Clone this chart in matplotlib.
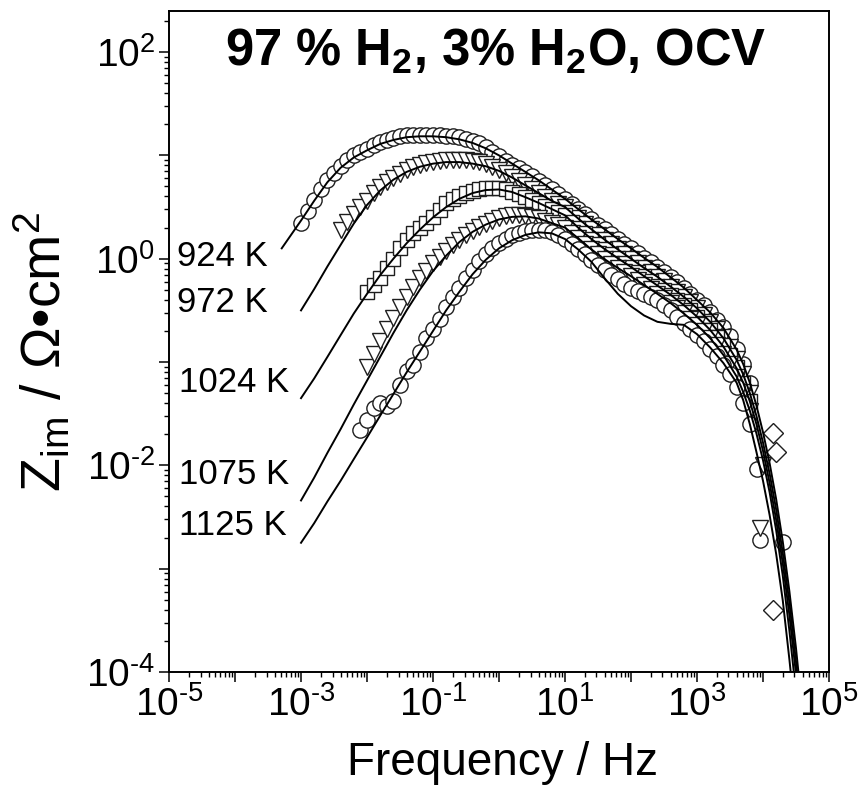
import numpy as np
import matplotlib.pyplot as plt
from matplotlib.ticker import FixedLocator, LogLocator, NullFormatter

plt.rcParams['font.family'] = ['Liberation Sans', 'DejaVu Sans']
plt.rcParams['mathtext.fontset'] = 'custom'
plt.rcParams['mathtext.rm'] = 'Liberation Sans'
plt.rcParams['mathtext.it'] = 'Liberation Sans:italic'
plt.rcParams['mathtext.bf'] = 'Liberation Sans:bold'

# measured frequencies, 10 points per decade (Hz)
freq = [1.00e-3, 1.26e-3, 1.58e-3, 2.00e-3, 2.51e-3, 3.16e-3, 3.98e-3, 5.01e-3, 6.31e-3, 7.94e-3,
        1.00e-2, 1.26e-2, 1.58e-2, 2.00e-2, 2.51e-2, 3.16e-2, 3.98e-2, 5.01e-2, 6.31e-2, 7.94e-2,
        1.00e-1, 1.26e-1, 1.58e-1, 2.00e-1, 2.51e-1, 3.16e-1, 3.98e-1, 5.01e-1, 6.31e-1, 7.94e-1,
        1.00, 1.26, 1.58, 2.00, 2.51, 3.16, 3.98, 5.01, 6.31, 7.94,
        10.0, 12.6, 15.8, 20.0, 25.1, 31.6, 39.8, 50.1, 63.1, 79.4,
        100, 126, 158, 200, 251, 316, 398, 501, 631, 794,
        1000, 1260, 1580, 2000, 2510, 3160, 3980, 5010, 6310]

# Z_im (Ohm cm2) of the measured points, first point index in freq
z924 = [2.24, 2.88, 3.72, 4.68, 5.75, 6.76, 7.94, 9.02, 10.0, 10.8,
        11.6, 12.6, 13.5, 14.1, 14.8, 15.3, 15.7, 15.8, 15.8, 15.8,
        15.8, 15.7, 15.5, 15.3, 15.0, 14.5, 13.8, 13.2, 12.0, 10.8,
        9.77, 8.91, 8.13, 7.50, 6.92, 6.31, 5.69, 5.13, 4.68, 4.22,
        3.80, 3.39, 3.02, 2.69, 2.40, 2.14, 1.93, 1.74, 1.55, 1.40,
        1.26, 1.135, 1.02, 0.923, 0.832, 0.741, 0.661, 0.589, 0.525, 0.457,
        0.398, 0.355, 0.302, 0.257, 0.219, 0.178, 0.135, 0.0955, 0.0631]
z972 = [1.91, 2.26, 2.69, 3.16, 3.63, 4.37, 4.90, 5.50, 6.03, 6.61,
        7.16, 7.71, 8.13, 8.51, 8.71, 8.91, 9.02, 9.06, 9.02, 8.95,
        8.81, 8.61, 8.22, 7.76, 7.24, 6.68, 6.17, 5.62, 5.13, 4.73,
        4.32, 3.98, 3.63, 3.39, 3.16, 2.79, 2.45, 2.19, 1.93, 1.70,
        1.53, 1.38, 1.23, 1.11, 1.00, 0.902, 0.813, 0.741, 0.668, 0.603,
        0.537, 0.479, 0.427, 0.380, 0.331, 0.288, 0.245, 0.209, 0.174, 0.141,
        0.107, 0.0759, 0.0501]
z1024 = [0.479, 0.562, 0.646, 0.813, 1.00, 1.26, 1.51, 1.78, 2.00, 2.24,
         2.51, 2.95, 3.47, 3.80, 4.07, 4.32, 4.52, 4.68, 4.79, 4.82,
         4.79, 4.68, 4.47, 4.22, 3.98, 3.72, 3.47, 3.24, 3.02, 2.82,
         2.63, 2.29, 2.00, 1.76, 1.55, 1.38, 1.24, 1.12, 1.01, 0.912,
         0.832, 0.750, 0.676, 0.610, 0.550, 0.501, 0.447, 0.398, 0.355, 0.316,
         0.275, 0.240, 0.204, 0.174, 0.145, 0.117, 0.0891, 0.0631, 0.0417]
z1075 = [0.0891, 0.120, 0.158, 0.209, 0.269, 0.339, 0.427, 0.531, 0.646, 0.767,
         0.902, 1.05, 1.20, 1.36, 1.53, 1.70, 1.86, 2.02, 2.19, 2.34,
         2.48, 2.57, 2.63, 2.63, 2.60, 2.54, 2.45, 2.34, 2.21, 2.11,
         2.00, 1.78, 1.58, 1.40, 1.23, 1.10, 0.989, 0.891, 0.813, 0.741,
         0.676, 0.617, 0.556, 0.507, 0.457, 0.417, 0.372, 0.331, 0.295, 0.260,
         0.229, 0.200, 0.170, 0.145, 0.120, 0.0955, 0.0724, 0.0513, 0.0339]
z1125 = [0.0219, 0.0275, 0.0355, 0.0398, 0.0372, 0.0417, 0.0603, 0.0813, 0.0933, 0.126,
         0.170, 0.209, 0.263, 0.339, 0.427, 0.525, 0.646, 0.776, 0.955, 1.10,
         1.26, 1.41, 1.55, 1.68, 1.78, 1.84, 1.88, 1.91, 1.91, 1.82,
         1.68, 1.55, 1.38, 1.23, 1.10, 0.977, 0.871, 0.776, 0.700, 0.631,
         0.575, 0.525, 0.490, 0.457, 0.427, 0.398, 0.355, 0.316, 0.275, 0.240,
         0.209, 0.182, 0.158, 0.135, 0.115, 0.0933, 0.0759, 0.0575, 0.0398, 0.0251]
start = {'924': 0, '972': 6, '1024': 10, '1075': 10, '1125': 9}

# scattered points above ~8 kHz
tail_circ_f = [8130, 8910, 20000]
tail_circ_z = [0.0093, 0.0019, 0.0018]
tail_tri_f = [10000, 8910]
tail_tri_z = [0.010, 0.0025]
tail_dia_f = [14100, 16000, 14100]
tail_dia_z = [0.0204, 0.0135, 0.00040]

# fitted curves
fit_freq = [5.1e-4, 1.00e-3, 1.58e-3, 2.51e-3, 3.98e-3, 6.31e-3, 1.00e-2, 1.58e-2, 2.51e-2, 3.98e-2,
            6.31e-2, 0.100, 0.158, 0.251, 0.398, 0.631, 1.00, 1.58, 2.51, 3.98,
            6.31, 10.0, 15.8, 25.1, 39.8, 63.1, 100, 158, 251, 398,
            631, 1000, 1585, 2512, 3981, 5012, 6310, 7943, 10000, 12590,
            15850, 19950, 25120, 31620, 39810]
nan = np.nan
fit924 = [1.26, 2.34, 3.63, 5.50, 7.59, 9.55, 11.2, 12.9, 14.1, 15.0,
          15.3, 15.3, 15.0, 14.3, 13.2, 11.7, 10.0, 8.32, 6.92, 5.75,
          4.68, 3.80, 3.02, 2.40, 1.93, 1.55, 1.26, 1.02, 0.832, 0.661,
          0.525, 0.398, 0.302, 0.214, 0.132, 0.0955, 0.0631, 0.0380, 0.0209, 0.0105,
          0.00468, 0.00182, 0.000603, 0.000170, 0.0000398]
fit972 = [nan, 0.316, 0.507, 0.841, 1.36, 2.19, 3.31, 4.57, 5.82, 6.92,
          7.76, 8.32, 8.61, 8.61, 8.32, 7.85, 7.08, 6.10, 5.13, 4.32,
          3.63, 3.16, 2.45, 1.93, 1.53, 1.23, 1.00, 0.813, 0.668, 0.537,
          0.427, 0.331, 0.245, 0.170, 0.105, 0.0759, 0.0501, 0.0302, 0.0166, 0.00832,
          0.00372, 0.00141, 0.000468, 0.000126, 0.0000316]
fit1024 = [nan, 0.0447, 0.0692, 0.112, 0.182, 0.295, 0.457, 0.692, 1.00, 1.41,
           1.91, 2.51, 3.16, 3.80, 4.32, 4.62, 4.68, 4.42, 3.94, 3.47,
           3.02, 2.63, 2.00, 1.55, 1.24, 1.01, 0.832, 0.676, 0.550, 0.447,
           0.355, 0.275, 0.204, 0.141, 0.0871, 0.0631, 0.0417, 0.0251, 0.0138, 0.00676,
           0.00295, 0.00112, 0.000355, 0.0000955, 0.0000251]
fit1075 = [nan, 0.00457, 0.00759, 0.0132, 0.0224, 0.0389, 0.0661, 0.112, 0.191, 0.316,
           0.501, 0.759, 1.07, 1.45, 1.82, 2.14, 2.40, 2.54, 2.57, 2.45,
           2.21, 2.00, 1.58, 1.23, 0.989, 0.813, 0.676, 0.556, 0.457, 0.372,
           0.295, 0.229, 0.170, 0.117, 0.0724, 0.0513, 0.0339, 0.0204, 0.0112, 0.00550,
           0.00234, 0.000851, 0.000251, 0.0000631, 0.0000158]
fit1125 = [nan, 0.00178, 0.00275, 0.00447, 0.00708, 0.0115, 0.0186, 0.0302, 0.0490, 0.0794,
           0.126, 0.200, 0.316, 0.479, 0.708, 0.977, 1.26, 1.51, 1.70, 1.80,
           1.76, 1.55, 1.23, 0.933, 0.646, 0.457, 0.347, 0.282, 0.245, 0.234,
           0.229, 0.186, 0.138, 0.0977, 0.0631, 0.0427, 0.0251, 0.0135, 0.00708, 0.00331,
           0.00138, 0.000490, 0.000132, 0.0000316, 0.0000079]

temps = ['924 K', '972 K', '1024 K', '1075 K', '1125 K']
label_xy = [(0.206, 0.665), (0.206, 0.607), (0.209, 0.506), (0.209, 0.390), (0.209, 0.326)]

fig = plt.figure(figsize=(8.58, 7.94), dpi=100)
ax = fig.add_axes([0.197, 0.1537, 0.7692, 0.8325])

mk = dict(ls='none', mfc='white', mec='#1e1e1e', mew=1.0, zorder=2)
series = [(z924, '924', 'o', 11), (z972, '972', 'v', 12), (z1024, '1024', 's', 10),
          (z1075, '1075', 'v', 12), (z1125, '1125', 'o', 11)]
for z, key, m, ms in series:
    i0 = start[key]
    ax.plot(freq[i0:i0 + len(z)], z, marker=m, ms=ms, **mk)
ax.plot(tail_circ_f, tail_circ_z, marker='o', ms=11, **mk)
ax.plot(tail_tri_f, tail_tri_z, marker='v', ms=12, **mk)
ax.plot(tail_dia_f, tail_dia_z, marker='D', ms=10, **mk)

for fz in [fit924, fit972, fit1024, fit1075, fit1125]:
    ax.plot(fit_freq, fz, color='black', lw=1.4, zorder=3)

ax.set_xscale('log')
ax.set_yscale('log')
ax.set_xlim(1e-5, 1e5)
ax.set_ylim(1e-4, 250)

ax.xaxis.set_major_locator(FixedLocator([10.0**k for k in range(-5, 6)]))
ax.set_xticklabels([r'$10^{\text{%d}}$' % k if k % 2 else '' for k in range(-5, 6)])
ax.yaxis.set_major_locator(FixedLocator([10.0**k for k in range(-4, 3)]))
ax.set_yticklabels([r'$10^{\text{%d}}$' % k if k % 2 == 0 else '' for k in range(-4, 3)])
for a in (ax.xaxis, ax.yaxis):
    a.set_minor_locator(LogLocator(base=10, subs=np.arange(2, 10), numticks=20))
    a.set_minor_formatter(NullFormatter())

ax.tick_params(which='major', direction='out', length=7, width=1.1, labelsize=28, pad=3,
               top=False, right=False)
ax.tick_params(which='minor', direction='out', length=3.5, width=1.0, top=False, right=False)
for s in ax.spines.values():
    s.set_linewidth(1.4)

ax.set_xlabel('Frequency / Hz', fontsize=33, va='top')
ax.xaxis.set_label_coords(0.506, -0.105)
ax.set_ylabel(r'Z$_{\rm im}$ / Ω•cm$^2$', fontsize=40, va='center')
ax.yaxis.set_label_coords(-0.19, 0.484)

fig.text(0.578, 0.917, r'97 % H$_\mathbf{2}$, 3% H$_\mathbf{2}$O, OCV', fontsize=36.5,
         fontweight='bold', ha='center', va='baseline')
for t, (x, y) in zip(temps, label_xy):
    fig.text(x, y, t, fontsize=25, ha='left', va='baseline')

fig.savefig('out.png', dpi=100)
